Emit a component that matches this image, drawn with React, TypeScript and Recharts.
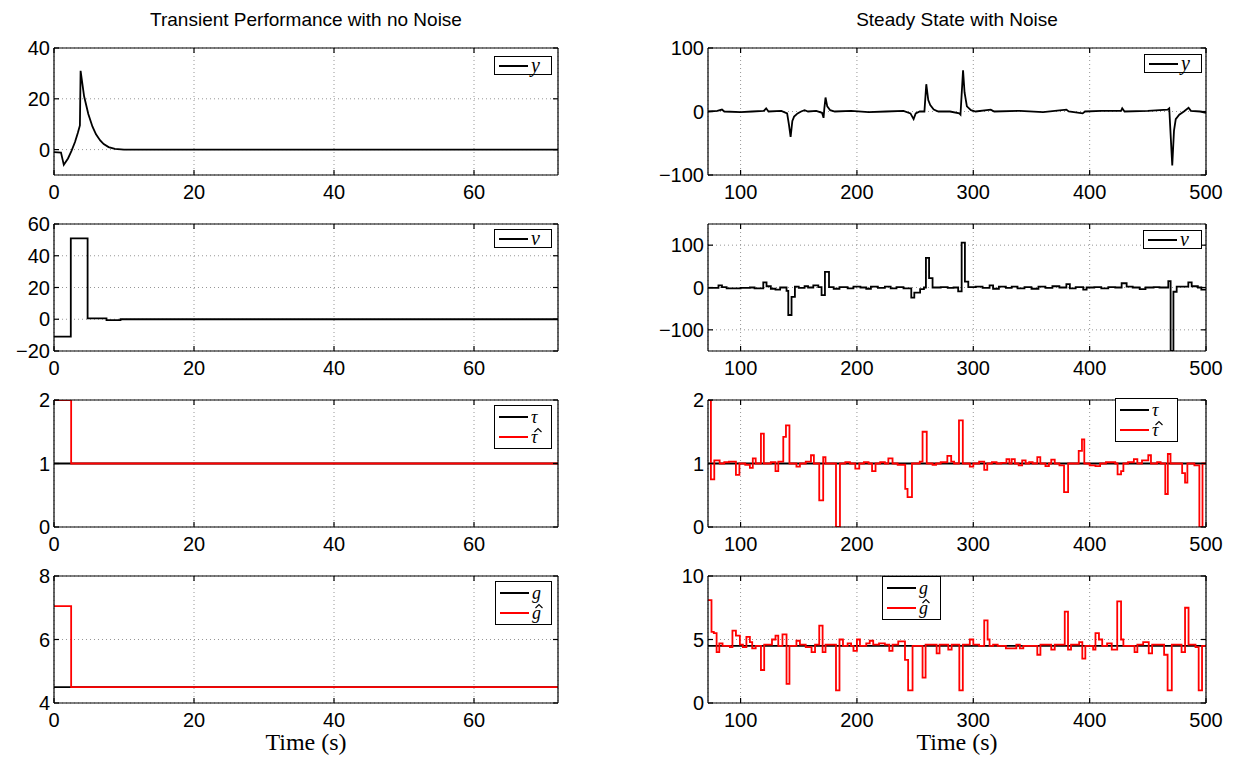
import React from 'react';
import { LineChart, Line, XAxis, YAxis, CartesianGrid, Legend } from 'recharts';

// time axes
const transientRange: [number, number] = [0, 72];
const steadyRange: [number, number] = [72, 500];
const transientTicks = [0, 20, 40, 60];
const steadyTicks = [100, 200, 300, 400, 500];

// ---- transient, no noise ----
const yTransT = [0, 1.0, 1.4, 2.0, 2.5, 3.0, 3.4, 3.7, 3.8, 4.3, 4.9, 5.5, 6.0, 6.6, 7.1, 7.8, 8.7, 10, 72];
const yTransV = [-1, -1.2, -6, -3.5, -0.5, 3, 6.5, 9.5, 31, 21, 14, 9, 6, 3.6, 2.2, 1, 0.3, 0, 0];

const nuTransT = [0, 2.4, 4.8, 7.5, 9.5, 72];
const nuTransV = [-11, 51, 0.5, -0.5, 0, 0];

const tauTransT = [0, 72];
const tauTransV = [1, 1];
const tauHatTransT = [0, 2.45, 72];
const tauHatTransV = [2, 1, 1];

const gTransT = [0, 72];
const gTransV = [4.5, 4.5];
const gHatTransT = [0, 2.45, 72];
const gHatTransV = [7.05, 4.5, 4.5];

// ---- steady state, with noise ----
const ySteadyT = [72, 80, 84, 86, 100, 110, 120, 122, 124, 135, 140, 141.5, 143, 144.5, 146, 149, 152, 155, 158, 165, 170, 171.3, 172, 173, 174.5, 177, 181, 195, 210, 225, 240, 246, 248.7, 250.5, 254, 258, 259.6, 261.3, 263, 266, 270, 280, 288, 289, 291.2, 292.5, 294.5, 298, 302, 315, 318, 340, 360, 380, 382, 394, 396, 410, 427, 428, 430, 450, 467, 468.4, 471, 472.5, 474, 477, 481, 485, 487, 495, 500];
const ySteadyV = [0, 1, 3, 0, -1, 0, 1, 5, 0, 1, -3, -20, -40, -15, -8, -3, 0, 2, 0, 1, -2, -10, 5, 22, 8, 2, 0, 1, -1, 0, 1, -3, -12, -3, 0, 0, 43, 18, 10, 3, 0, 0, -3, -5, 65, 30, 8, 2, 0, 3, 0, 1, -1, 3, 0, -3, 0, 1, 1, 5, 0, 1, 3, 5, -85, -30, -12, -5, 0, 6, 1, 0, -2];

const nuSteadyT = [72, 81, 84, 88, 100, 108, 112, 119.5, 122.3, 126, 130, 134, 139.5, 141, 143.8, 146.7, 150, 155, 158, 162.5, 166.8, 169.6, 172.5, 176, 180, 185, 192, 197, 203, 208, 212, 218, 224, 229, 234, 240, 246.7, 249.3, 254.3, 257.6, 259.3, 262, 265, 272, 278, 283, 287, 290, 292.8, 295.7, 302, 308, 314, 317, 322, 328, 333, 338, 344, 350, 356, 362, 368, 374, 380, 383, 388, 394.5, 397.4, 404, 410, 416, 422, 427.5, 431.8, 437, 443, 448, 455, 460, 467.6, 469.6, 472, 474.8, 484.8, 487.7, 493, 496, 500];
const nuSteadyV = [-1, 5, 1, -2, -1, 0, -2, 12, 3, -3, -5, 0, -8, -65, -22, 2, -1, 3, 0, 5, 1, -18, 37, 1, -3, 1, -2, 2, 0, -3, 2, -1, 2, -2, 1, -2, -24, -12, -4, 0, 70, 22, 0, 1, -1, 0, -9, 106, 14, 1, 2, -1, 5, -3, 2, -1, 2, -2, 1, -3, 2, -1, 3, 0, 8, -2, 1, -5, 0, 1, -2, 1, 0, 10, 2, 0, -4, 0, 1, 0, 15, -150, -10, 2, 12, 3, 0, -5, -5];

const tauSteadyT = [72, 500];
const tauSteadyV = [1, 1];
const tauHatSteadyT = [72, 74.5, 77.4, 82, 86, 90, 96, 99, 104, 108, 110.5, 113, 117.5, 120, 126, 130, 132.4, 136.7, 139, 142, 148, 151, 156, 160.5, 163, 167.6, 171, 173, 182, 185.4, 190, 194, 198.6, 202, 206, 210, 213, 216, 220, 224, 227, 230.6, 235, 241.5, 243.5, 247.3, 254, 256.4, 260, 265, 268, 272, 277.7, 281, 283.5, 287.7, 291, 297, 300, 305, 309.4, 312, 316, 320, 324, 328.5, 331, 333, 335.7, 339, 342, 345, 348, 351, 355, 357.6, 362, 365, 367, 370, 374, 378, 381.5, 390.6, 393.4, 395.4, 400, 405, 409, 414, 422, 424, 427, 429, 433, 438, 441, 445, 450.4, 452.7, 458, 461, 465, 467.2, 469.5, 479.5, 482, 484, 490, 494.3, 497, 500];
const tauHatSteadyV = [2, 0.75, 1.05, 1.0, 1.02, 1.03, 0.82, 1.0, 0.98, 0.93, 1.08, 1.0, 1.47, 1.0, 1.02, 0.88, 1.03, 1.42, 1.6, 1.0, 0.95, 1.0, 1.03, 1.13, 1.0, 0.42, 1.1, 1.0, 0.0, 1.0, 1.02, 1.0, 0.92, 1.0, 1.02, 1.0, 0.88, 1.0, 1.02, 1.0, 1.08, 1.0, 0.98, 0.6, 0.47, 1.0, 1.03, 1.5, 1.0, 0.98, 1.0, 1.02, 1.12, 1.03, 1.0, 1.68, 1.0, 0.95, 1.0, 1.03, 0.9, 1.0, 1.02, 1.0, 1.01, 1.07, 1.0, 1.07, 1.0, 0.97, 1.05, 1.0, 1.02, 1.0, 1.1, 1.0, 0.96, 1.0, 1.06, 1.0, 0.97, 0.55, 1.0, 1.2, 1.38, 1.0, 0.97, 0.96, 1.0, 1.02, 1.0, 0.83, 0.88, 1.0, 1.02, 1.07, 1.0, 1.05, 1.13, 1.0, 1.02, 1.0, 0.52, 1.15, 1.0, 0.85, 0.7, 1.0, 0.97, 0.0, 1.0, 1.0];

const gSteadyT = [72, 500];
const gSteadyV = [4.5, 4.5];
const gHatSteadyT = [72, 75, 77, 79.4, 81.7, 84.5, 90.8, 93, 96, 99.4, 102, 105, 108, 110, 113, 117.5, 120.3, 127, 130, 132.4, 136, 139.5, 142, 148, 151, 156, 161, 164, 167.6, 170.5, 173, 182, 185, 188, 192, 195, 197, 200, 202.6, 208, 211, 214, 219, 224, 227.8, 230.6, 235.5, 241.3, 244, 247.8, 256.4, 259, 268.5, 271, 278.5, 281.4, 288, 291, 297, 300, 305, 309.4, 312.3, 314, 317, 321, 328, 337, 340, 343, 355, 357.7, 367, 370, 378.6, 381.4, 384, 391, 393.7, 396.3, 403, 405, 408, 410.8, 415, 419, 423.7, 427, 429, 438.6, 441, 446, 450.8, 453.7, 464, 467, 470.6, 479, 482, 485, 491, 493.7, 496.6, 500];
const gHatSteadyV = [8.1, 5.6, 5.5, 4.0, 4.7, 4.5, 4.4, 5.7, 5.3, 4.6, 4.4, 5.2, 4.8, 4.3, 4.5, 2.6, 4.6, 5.0, 5.3, 4.5, 5.4, 1.5, 4.5, 4.9, 4.6, 4.4, 4.0, 4.6, 6.1, 4.0, 4.6, 1.0, 5.0, 4.5, 4.7, 4.5, 4.1, 5.0, 4.5, 4.7, 4.9, 4.6, 4.7, 4.6, 4.1, 4.6, 4.85, 3.4, 1.0, 4.5, 2.0, 4.6, 3.9, 4.6, 4.2, 4.6, 1.0, 4.6, 5.0, 4.6, 4.5, 6.5, 5.0, 4.5, 4.6, 4.5, 4.3, 4.6, 4.3, 4.5, 3.8, 4.6, 4.2, 4.6, 7.2, 4.2, 4.6, 4.8, 3.5, 4.5, 4.2, 5.5, 5.0, 4.5, 4.7, 4.2, 8.0, 5.0, 4.5, 4.0, 4.6, 4.8, 3.9, 4.6, 3.8, 1.0, 4.6, 4.0, 7.5, 4.6, 4.4, 1.0, 4.5, 4.5];

// y axes per row
const yRangeRow1L: [number, number] = [-10, 40];
const yTicksRow1L = [0, 20, 40];
const yRangeRow2L: [number, number] = [-20, 60];
const yTicksRow2L = [-20, 0, 20, 40, 60];
const yRangeRow3: [number, number] = [0, 2];
const yTicksRow3 = [0, 1, 2];
const yRangeRow4L: [number, number] = [4, 8];
const yTicksRow4L = [4, 6, 8];
const yRangeRow1R: [number, number] = [-100, 100];
const yTicksRow1R = [-100, 0, 100];
const yRangeRow2R: [number, number] = [-150, 150];
const yTicksRow2R = [-100, 0, 100];
const yRangeRow4R: [number, number] = [0, 10];
const yTicksRow4R = [0, 5, 10];

const BLACK = '#000000';
const RED = '#ff0000';
const SANS = '"Liberation Sans", Arial, Helvetica, sans-serif';
const SERIF = '"Liberation Serif", "Times New Roman", serif';

type Pt = { t: number; v: number };
const zip = (ts: number[], vs: number[]): Pt[] => ts.map((t, i) => ({ t, v: vs[i] }));

// letter with a small circumflex drawn over it (estimate symbols)
const Hat = ({ ch }: { ch: string }) => (
  <span style={{ position: 'relative', display: 'inline-block' }}>
    {ch}
    <svg width={8} height={5} style={{ position: 'absolute', left: 3, top: -2, overflow: 'visible' }}>
      <polyline points="0.5,4 4,0.5 7.5,4" fill="none" stroke="#000" strokeWidth={1.1} />
    </svg>
  </span>
);

interface Series {
  key: string;
  data: Pt[];
  color: string;
  step: boolean;
  width: number;
}

interface LegendItem {
  color: string;
  label: React.ReactNode;
}

const LegendBox = ({ items, width }: { items: LegendItem[]; width: number }) => {
  const double = items.length > 1;
  return (
    <div style={{ background: '#fff', border: '1px solid #000', padding: '1px 4px 1px 4px', width, boxSizing: 'border-box' }}>
      {items.map((it, i) => (
        <div key={i} style={{ display: 'flex', alignItems: 'center', height: double ? 20 : 15 }}>
          <span style={{ display: 'inline-block', width: 29, height: 2, background: it.color, marginRight: 3 }} />
          <span style={{ fontFamily: SERIF, fontStyle: 'italic', fontSize: double ? 18 : 20, lineHeight: '15px' }}>{it.label}</span>
        </div>
      ))}
    </div>
  );
};

const fmt = (v: number) => String(v).replace('-', '\u2212');
const noLabel = () => <g />;

interface PanelProps {
  left: number;
  top: number;
  width: number;
  height: number;
  xDomain: [number, number];
  xTicks: number[];
  yDomain: [number, number];
  yTicks: number[];
  series: Series[];
  legend: LegendItem[];
  legendAt: [number, number];
  legendWidth: number;
}

const YW = 60; // left axis band
const XH = 40; // bottom axis band
const TH = 1; // top (frame) axis
const RW = 1; // right (frame) axis
const MT = 14; // room for the topmost tick label
const MR = 30; // room for the last x label

const Panel = ({ left, top, width, height, xDomain, xTicks, yDomain, yTicks, series, legend, legendAt, legendWidth }: PanelProps) => {
  const axisStyle = { stroke: BLACK, strokeWidth: 1.2 };
  const tickText = { fill: BLACK, fontSize: 20, fontFamily: SANS };
  const ox = left - YW;
  const oy = top - TH - MT;
  return (
    <div style={{ position: 'absolute', left: ox, top: oy }}>
      <LineChart width={YW + width + RW + MR} height={MT + TH + height + XH}
        margin={{ top: MT, right: MR, bottom: 0, left: 0 }}>
        <CartesianGrid xAxisId="b" yAxisId="l" stroke="#8a8a8a" strokeWidth={0.9} strokeDasharray="1 3" />
        <XAxis xAxisId="b" type="number" dataKey="t" orientation="bottom" domain={xDomain} ticks={xTicks}
          allowDataOverflow interval={0} height={XH} axisLine={axisStyle} tickLine={axisStyle}
          tickSize={-5} tickMargin={15} tick={tickText} />
        <XAxis xAxisId="t" type="number" dataKey="t" orientation="top" domain={xDomain} ticks={xTicks}
          allowDataOverflow interval={0} height={TH} axisLine={axisStyle} tickLine={axisStyle}
          tickSize={-5} tick={noLabel} />
        <YAxis yAxisId="l" type="number" orientation="left" domain={yDomain} ticks={yTicks}
          allowDataOverflow interval={0} width={YW} axisLine={axisStyle} tickLine={axisStyle}
          tickSize={-5} tickMargin={9} tick={tickText} tickFormatter={fmt} />
        <YAxis yAxisId="r" type="number" orientation="right" domain={yDomain} ticks={yTicks}
          allowDataOverflow interval={0} width={RW} axisLine={axisStyle} tickLine={axisStyle}
          tickSize={-5} tick={noLabel} />
        {series.map((s) => (
          <Line key={s.key} xAxisId="b" yAxisId="l" data={s.data} dataKey="v"
            type={s.step ? 'stepAfter' : 'linear'} stroke={s.color} strokeWidth={s.width}
            dot={false} activeDot={false} isAnimationActive={false} />
        ))}
        <Legend layout="vertical" align="center" verticalAlign="middle"
          wrapperStyle={{ left: legendAt[0] - ox, top: legendAt[1] - oy, width: 'auto' }}
          content={() => <LegendBox items={legend} width={legendWidth} />} />
      </LineChart>
    </div>
  );
};

const ROW_TOP = [48, 224, 400, 576];
const ROW_H = 127;
const COL_L = { left: 54, width: 504 };
const COL_R = { left: 708, width: 498 };

const lbl = (s: string) => <span>{s}</span>;

const axisTitle = (left: number, width: number) => (
  <div style={{ position: 'absolute', left, width, top: 732, textAlign: 'center', fontFamily: SERIF, fontSize: 24, lineHeight: '20px' }}>
    Time (s)
  </div>
);

const App = () => (
  <div style={{ position: 'absolute', left: 0, top: 0, width: 1240, height: 759, background: '#fff', overflow: 'hidden' }}>
    <div style={{ position: 'absolute', left: COL_L.left, width: COL_L.width, top: 9, textAlign: 'center', fontFamily: SANS, fontSize: 19 }}>
      Transient Performance with no Noise
    </div>
    <div style={{ position: 'absolute', left: COL_R.left, width: COL_R.width, top: 9, textAlign: 'center', fontFamily: SANS, fontSize: 19 }}>
      Steady State with Noise
    </div>

    {/* transient column */}
    <Panel {...COL_L} top={ROW_TOP[0]} height={ROW_H} xDomain={transientRange} xTicks={transientTicks}
      yDomain={yRangeRow1L} yTicks={yTicksRow1L}
      series={[{ key: 'y', data: zip(yTransT, yTransV), color: BLACK, step: false, width: 1.8 }]}
      legend={[{ color: BLACK, label: lbl('y') }]} legendAt={[494, 56]} legendWidth={58} />
    <Panel {...COL_L} top={ROW_TOP[1]} height={ROW_H} xDomain={transientRange} xTicks={transientTicks}
      yDomain={yRangeRow2L} yTicks={yTicksRow2L}
      series={[{ key: 'nu', data: zip(nuTransT, nuTransV), color: BLACK, step: true, width: 1.8 }]}
      legend={[{ color: BLACK, label: lbl('ν') }]} legendAt={[494, 229]} legendWidth={58} />
    <Panel {...COL_L} top={ROW_TOP[2]} height={ROW_H} xDomain={transientRange} xTicks={transientTicks}
      yDomain={yRangeRow3} yTicks={yTicksRow3}
      series={[
        { key: 'tau', data: zip(tauTransT, tauTransV), color: BLACK, step: true, width: 1.8 },
        { key: 'tauHat', data: zip(tauHatTransT, tauHatTransV), color: RED, step: true, width: 1.8 },
      ]}
      legend={[{ color: BLACK, label: lbl('τ') }, { color: RED, label: <Hat ch="τ" /> }]} legendAt={[494, 405]} legendWidth={58} />
    <Panel {...COL_L} top={ROW_TOP[3]} height={ROW_H} xDomain={transientRange} xTicks={transientTicks}
      yDomain={yRangeRow4L} yTicks={yTicksRow4L}
      series={[
        { key: 'g', data: zip(gTransT, gTransV), color: BLACK, step: true, width: 1.8 },
        { key: 'gHat', data: zip(gHatTransT, gHatTransV), color: RED, step: true, width: 1.8 },
      ]}
      legend={[{ color: BLACK, label: lbl('g') }, { color: RED, label: <Hat ch="g" /> }]} legendAt={[495, 581]} legendWidth={57} />

    {/* steady-state column */}
    <Panel {...COL_R} top={ROW_TOP[0]} height={ROW_H} xDomain={steadyRange} xTicks={steadyTicks}
      yDomain={yRangeRow1R} yTicks={yTicksRow1R}
      series={[{ key: 'y', data: zip(ySteadyT, ySteadyV), color: BLACK, step: false, width: 1.8 }]}
      legend={[{ color: BLACK, label: lbl('y') }]} legendAt={[1144, 54]} legendWidth={58} />
    <Panel {...COL_R} top={ROW_TOP[1]} height={ROW_H} xDomain={steadyRange} xTicks={steadyTicks}
      yDomain={yRangeRow2R} yTicks={yTicksRow2R}
      series={[{ key: 'nu', data: zip(nuSteadyT, nuSteadyV), color: BLACK, step: true, width: 1.8 }]}
      legend={[{ color: BLACK, label: lbl('ν') }]} legendAt={[1143, 230]} legendWidth={59} />
    <Panel {...COL_R} top={ROW_TOP[2]} height={ROW_H} xDomain={steadyRange} xTicks={steadyTicks}
      yDomain={yRangeRow3} yTicks={yTicksRow3}
      series={[
        { key: 'tau', data: zip(tauSteadyT, tauSteadyV), color: BLACK, step: true, width: 1.8 },
        { key: 'tauHat', data: zip(tauHatSteadyT, tauHatSteadyV), color: RED, step: true, width: 1.8 },
      ]}
      legend={[{ color: BLACK, label: lbl('τ') }, { color: RED, label: <Hat ch="τ" /> }]} legendAt={[1115, 398]} legendWidth={63} />
    <Panel {...COL_R} top={ROW_TOP[3]} height={ROW_H} xDomain={steadyRange} xTicks={steadyTicks}
      yDomain={yRangeRow4R} yTicks={yTicksRow4R}
      series={[
        { key: 'g', data: zip(gSteadyT, gSteadyV), color: BLACK, step: true, width: 1.8 },
        { key: 'gHat', data: zip(gHatSteadyT, gHatSteadyV), color: RED, step: true, width: 1.8 },
      ]}
      legend={[{ color: BLACK, label: lbl('g') }, { color: RED, label: <Hat ch="g" /> }]} legendAt={[882, 576]} legendWidth={59} />

    {axisTitle(COL_L.left, COL_L.width)}
    {axisTitle(COL_R.left, COL_R.width)}
  </div>
);

export default App;
